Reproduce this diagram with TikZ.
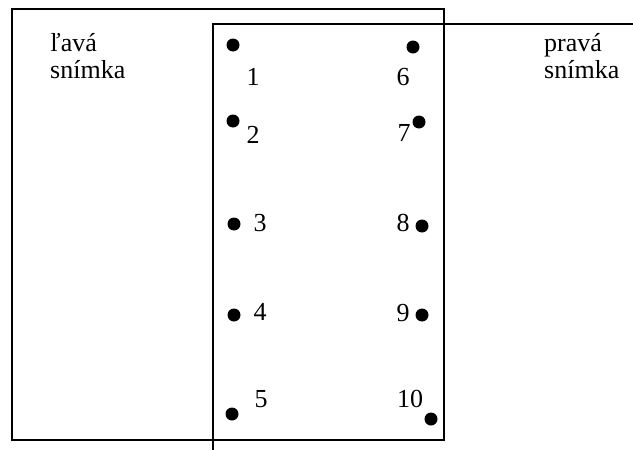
\documentclass[tikz,border=0pt]{standalone}
\usepackage{fontspec}
\setmainfont{Liberation Serif}
\begin{document}
\begin{tikzpicture}[x=1pt,y=-1pt,
  frame/.style={line width=1.8pt},
  dot/.style={circle,fill=black,inner sep=0pt,minimum size=13pt},
  num/.style={inner sep=0pt,font=\fontsize{26}{30}\selectfont},
  lbl/.style={inner sep=0pt,anchor=north west,align=left,font=\fontsize{26}{27}\selectfont}]
\useasboundingbox (0,0) rectangle (633,450);
\begin{scope}
\clip (0,0) rectangle (633,450);
\draw[frame] (12,9) rectangle (444,440);
\draw[frame] (640,24) -- (213,24) -- (213,460);
\end{scope}
\node[lbl] (left) at (50,33) {ľavá\\snímka};
\node[lbl] (right) at (544,33) {pravá\\snímka};
% dots
\node[dot] (d1) at (233,45) {};
\node[dot] (d2) at (233,121) {};
\node[dot] (d3) at (234,224) {};
\node[dot] (d4) at (234,315) {};
\node[dot] (d5) at (232,414) {};
\node[dot] (d6) at (413,47) {};
\node[dot] (d7) at (419,122) {};
\node[dot] (d8) at (422,226) {};
\node[dot] (d9) at (422,315) {};
\node[dot] (d10) at (431,419) {};
% numbers
\node[num] (n1) at (253,77) {1};
\node[num] (n2) at (253,135) {2};
\node[num] (n3) at (260,223) {3};
\node[num] (n4) at (260,312) {4};
\node[num] (n5) at (261,399) {5};
\node[num] (n6) at (403,77) {6};
\node[num] (n7) at (404,133) {7};
\node[num] (n8) at (403,223) {8};
\node[num] (n9) at (403,313) {9};
\node[num] (n10) at (410,399) {10};
\end{tikzpicture}
\end{document}
